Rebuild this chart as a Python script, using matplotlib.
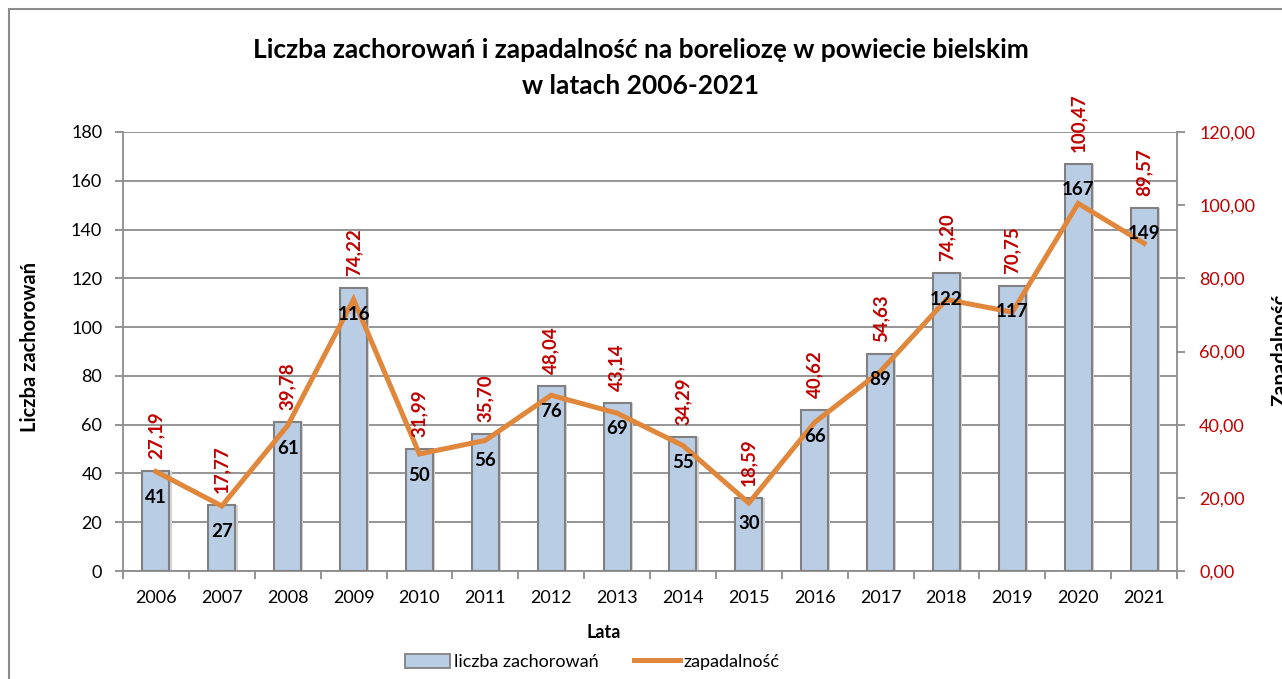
import matplotlib
matplotlib.use("Agg")
import matplotlib.pyplot as plt
from matplotlib.patches import Rectangle, Patch
from matplotlib.lines import Line2D
from matplotlib.ticker import MultipleLocator, FuncFormatter, FixedLocator, NullFormatter

plt.rcParams['font.family'] = ['Lato', 'DejaVu Sans']

years = ['2006', '2007', '2008', '2009', '2010', '2011', '2012', '2013',
         '2014', '2015', '2016', '2017', '2018', '2019', '2020', '2021']
cases = [41, 27, 61, 116, 50, 56, 76, 69, 55, 30, 66, 89, 122, 117, 167, 149]
incidence = [27.19, 17.77, 39.78, 74.22, 31.99, 35.70, 48.04, 43.14,
             34.29, 18.59, 40.62, 54.63, 74.20, 70.75, 100.47, 89.57]

title = 'Liczba zachorowań i zapadalność na boreliozę w powiecie bielskim\nw latach 2006-2021'

W, H = 1282, 679
fig = plt.figure(figsize=(W / 100, H / 100), dpi=100)

# outer chart border
fig.patches.append(Rectangle((9 / W, -0.05), 1.1, 1 - 9 / H + 0.05, transform=fig.transFigure,
                             fill=False, edgecolor='#8c8c8c', linewidth=1.5, zorder=0))

ax = fig.add_axes([123 / W, 108 / H, (1177 - 123) / W, (571 - 132) / H])
ax2 = ax.twinx()

x = list(range(len(years)))
grid_c = '#8c8c8c'
bar_c = '#B9CDE5'
line_c = '#E0873B'
red = '#C00000'

# shadow
ax.bar([i + 0.035 for i in x], cases, width=0.41, color='#d4d4d4', edgecolor='none', zorder=2)
ax.bar(x, cases, width=0.41, color=bar_c, edgecolor='#808080', linewidth=1.5, zorder=3)

ax.set_xlim(-0.5, len(years) - 0.5)
ax.set_ylim(0, 180)
ax.yaxis.set_major_locator(MultipleLocator(20))
ax.grid(axis='y', color=grid_c, linewidth=1.3, zorder=0)
ax.set_axisbelow(True)

ax.set_xticks(x)
ax.set_xticklabels(years, fontsize=13)
ax.tick_params(axis='x', length=0, pad=14)
ax.xaxis.set_minor_locator(FixedLocator([i - 0.5 for i in range(len(years) + 1)]))
ax.xaxis.set_minor_formatter(NullFormatter())
ax.tick_params(axis='x', which='minor', length=6, color=grid_c, width=1.3)
ax.tick_params(axis='y', labelsize=13, length=6, color=grid_c, width=1.3, pad=9)

for s in ['top', 'right']:
    ax.spines[s].set_visible(False)
ax.spines['left'].set_color(grid_c)
ax.spines['bottom'].set_color(grid_c)
ax.spines['left'].set_linewidth(1.3)
ax.spines['bottom'].set_linewidth(1.3)

# line on secondary axis
ax2.plot(x, incidence, color=line_c, linewidth=3.6, zorder=5, solid_joinstyle='miter')
ax2.set_ylim(0, 120)
ax2.yaxis.set_major_locator(MultipleLocator(20))
ax2.yaxis.set_major_formatter(FuncFormatter(lambda v, p: f'{v:.2f}'.replace('.', ',')))
ax2.tick_params(axis='y', labelsize=13, labelcolor=red, length=6, color=grid_c, width=1.3, pad=10)
for s in ['top', 'left', 'bottom']:
    ax2.spines[s].set_visible(False)
ax2.spines['right'].set_color(grid_c)
ax2.spines['right'].set_linewidth(1.3)

# bar value labels (drawn above the line)
for i, v in zip(x, cases):
    ax2.annotate(str(v), (i, v), xycoords=ax.transData, xytext=(0, -26), textcoords='offset pixels',
                 ha='center', va='center', fontsize=13.5, fontweight='bold', color='black', zorder=8)

# red labels above the higher of bar top / line point
for i, v, c in zip(x, incidence, cases):
    anchor = max(v, c * 120 / 180)
    ax2.annotate(f'{v:.2f}'.replace('.', ','), (i, anchor), xytext=(0, 12), textcoords='offset pixels',
                 ha='center', va='bottom', rotation=90, fontsize=13.5, fontweight='bold', color=red, zorder=7)

fig.text(0.5, 1 - 68.5 / H, title, ha='center', va='center', fontsize=19, fontweight='bold',
         linespacing=1.6)
fig.text(30 / W, 1 - 347 / H, 'Liczba zachorowań', rotation=90, ha='center', va='center',
         fontsize=14.5, fontweight='bold')
fig.text(1271 / W, 1 - 350 / H, 'Zapadalność', rotation=90, ha='left', va='center',
         fontsize=14.5, fontweight='bold')
fig.text(604 / W, 1 - 632 / H, 'Lata', ha='center', va='center',
         fontsize=13, fontweight='bold')

handles = [Patch(facecolor=bar_c, edgecolor='#808080', linewidth=1.3),
           Line2D([0], [0], color=line_c, linewidth=3.6)]
fig.legend(handles, ['liczba zachorowań', 'zapadalność'], loc='center', bbox_to_anchor=(592 / W, 1 - 662 / H),
           ncol=2, frameon=False, fontsize=13, handlelength=2.5, handleheight=0.8,
           columnspacing=2.0, handletextpad=0.2)

fig.savefig('out.png', dpi=100)
